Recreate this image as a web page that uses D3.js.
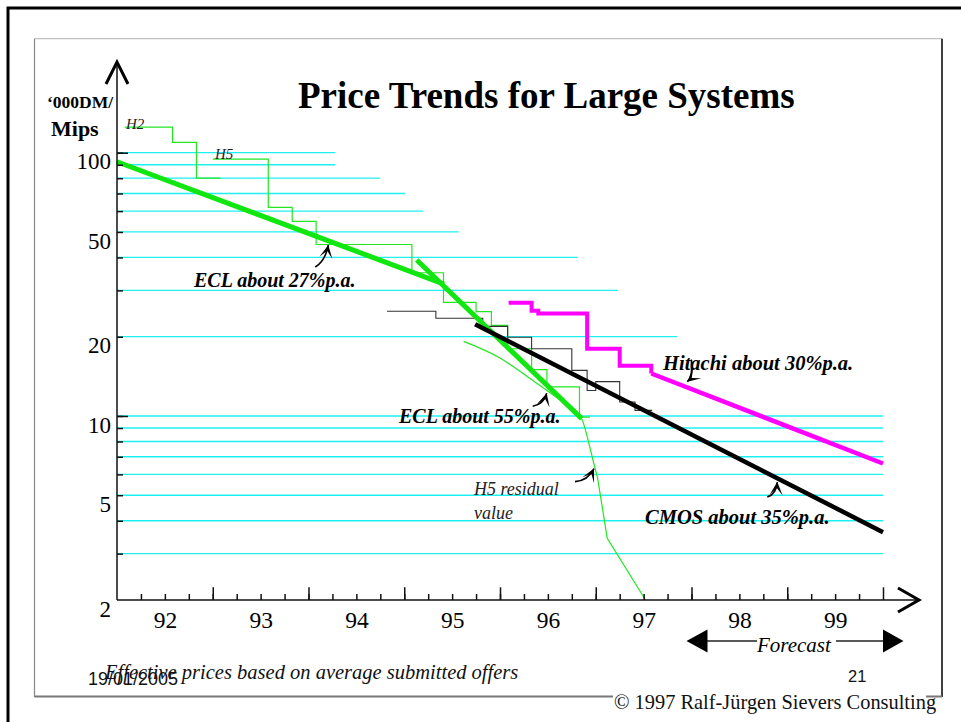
<!DOCTYPE html>
<html>
<head>
<meta charset="utf-8">
<script src="https://cdn.jsdelivr.net/npm/d3@7"></script>
<style>
body { margin: 0; background: #fff; }
svg { display: block; }
</style>
</head>
<body>
<div id="svg-container"></div>
<script>
const Width = 961;
const Height = 722;

// axis labels
const yearLabels = ["92", "93", "94", "95", "96", "97", "98", "99"];
const yearMids = [1992.5, 1993.5, 1994.5, 1995.5, 1996.5, 1997.5, 1998.5, 1999.5];
const yearBounds = [1993, 1994, 1995, 1996, 1997, 1998, 1999, 2000];
const yTickLabels = [100, 50, 20, 10, 5, 2];
const yMajorTicks = [100, 10];

// cyan helper lines (value, right end year)
const gridValues = [100, 90, 80, 70, 60, 50, 40, 30, 20, 10, 9, 8, 7, 6, 5, 4, 3];
const gridEnds = [1994.28, 1994.28, 1994.75, 1995.01, 1995.2, 1995.57, 1996.81, 1997.23, 1997.85,
                  2000, 2000, 2000, 2000, 2000, 2000, 2000, 2000];

// actual prices (steps)
const h2Years = [1992.08, 1992.58, 1992.83, 1993.08];
const h2Values = [125, 109.5, 80, 80];

const h5Years = [1993.0, 1993.58, 1993.83, 1994.08, 1995.08, 1995.41, 1995.75, 1995.91, 1996.08, 1996.33, 1996.49, 1996.83, 1996.94];
const h5Values = [94.6, 62, 54.8, 44.8, 35, 27, 24.9, 22.1, 18.0, 15.0, 12.9, 9.9, 9.9];

const cmosYears = [1994.82, 1995.33, 1995.82, 1996.08, 1996.33, 1996.75, 1996.91, 1997.0, 1997.25, 1997.41, 1997.59];
const cmosValues = [25.0, 23.5, 21.9, 19.9, 18.0, 14.9, 12.5, 13.5, 11.3, 10.5, 10.5];

const hitachiYears = [1996.09, 1996.33, 1996.40, 1996.91, 1997.25, 1997.58];
const hitachiValues = [26.9, 25.1, 24.5, 18.0, 15.5, 14.5];

// trends
const ecl27Years = [1992.0, 1995.415];
const ecl27Values = [92.4, 31.7];
const ecl55Years = [1995.13, 1996.853];
const ecl55Values = [39.1, 9.77];
const cmosTrendYears = [1995.74, 2000.0];
const cmosTrendValues = [22.3, 3.62];
const hitachiTrendYears = [1997.58, 2000.0];
const hitachiTrendValues = [14.5, 6.6];

// H5 residual value
const residualYears = [1995.62, 1996.0, 1996.31, 1996.57, 1996.85, 1996.92, 1996.98, 1997.02, 1997.12, 1997.52];
const residualValues = [19.2, 16.6, 13.9, 11.9, 9.8, 8.1, 6.6, 5.8, 3.43, 2.0];

const serif = "'Liberation Serif', 'Times New Roman', serif";
const sans = "'Liberation Sans', Arial, sans-serif";

const svg = d3.select("#svg-container").append("svg").attr("width", Width).attr("height", Height);

const x = d3.scaleLinear().domain([1992, 2000]).range([117, 883]);
const y = d3.scaleLog().domain([2, 100]).range([600, 152.7]);

const zip = (xs, vs) => xs.map((d, i) => [d, vs[i]]);

const line = d3.line().x(d => x(d[0])).y(d => y(d[1]));
const smooth = d3.line().x(d => x(d[0])).y(d => y(d[1])).curve(d3.curveMonotoneX);
const stepLine = d3.line().x(d => x(d[0])).y(d => y(d[1])).curve(d3.curveStepAfter);

// frames
svg.append("path")
    .attr("d", `M 8 ${Height} V 8 H ${Width}`)
    .attr("fill", "none").attr("stroke", "black").attr("stroke-width", 3);
svg.append("line").attr("x1", 34.5).attr("y1", 38.7).attr("x2", 942).attr("y2", 38.7)
    .attr("stroke", "#c0c0c0").attr("stroke-width", 1.2);
svg.append("line").attr("x1", 34.5).attr("y1", 38.7).attr("x2", 34.5).attr("y2", 697)
    .attr("stroke", "#888").attr("stroke-width", 1.2);
svg.append("line").attr("x1", 942).attr("y1", 38.7).attr("x2", 942).attr("y2", 697)
    .attr("stroke", "black").attr("stroke-width", 1.5);
svg.append("line").attr("x1", 34.5).attr("y1", 696.5).attr("x2", 942).attr("y2", 696.5)
    .attr("stroke", "#777").attr("stroke-width", 2);

// cyan lines
svg.append("g").selectAll("line")
    .data(gridValues)
    .join("line")
    .attr("x1", x(1992)).attr("x2", (d, i) => x(gridEnds[i]))
    .attr("y1", d => y(d)).attr("y2", d => y(d))
    .attr("stroke", "#1ef0f0").attr("stroke-width", 1.3);

// thin step lines
svg.append("path").attr("d", stepLine(zip(h2Years, h2Values)))
    .attr("fill", "none").attr("stroke", "#22e622").attr("stroke-width", 1.2);
svg.append("path").attr("d", stepLine(zip(h5Years, h5Values)))
    .attr("fill", "none").attr("stroke", "#22e622").attr("stroke-width", 1.2);
svg.append("path").attr("d", stepLine(zip(cmosYears, cmosValues)))
    .attr("fill", "none").attr("stroke", "#333").attr("stroke-width", 1.1);
// residual: smooth arc, then straight drop
svg.append("path").attr("d", smooth(zip(residualYears.slice(0, 6), residualValues.slice(0, 6))))
    .attr("fill", "none").attr("stroke", "#22e622").attr("stroke-width", 1.2);
svg.append("path").attr("d", line(zip(residualYears.slice(5), residualValues.slice(5))))
    .attr("fill", "none").attr("stroke", "#22e622").attr("stroke-width", 1.2);

// thick lines
svg.append("path").attr("d", stepLine(zip(hitachiYears, hitachiValues)))
    .attr("fill", "none").attr("stroke", "#ff00ff").attr("stroke-width", 4);
svg.append("path").attr("d", line(zip(hitachiTrendYears, hitachiTrendValues)))
    .attr("fill", "none").attr("stroke", "#ff00ff").attr("stroke-width", 4.5);
svg.append("path").attr("d", line(zip(ecl27Years, ecl27Values)))
    .attr("fill", "none").attr("stroke", "#11e611").attr("stroke-width", 5);
svg.append("path").attr("d", line(zip(ecl55Years, ecl55Values)))
    .attr("fill", "none").attr("stroke", "#11e611").attr("stroke-width", 5);
svg.append("path").attr("d", line(zip(cmosTrendYears, cmosTrendValues)))
    .attr("fill", "none").attr("stroke", "black").attr("stroke-width", 4.5);

// x axis ticks
const xMinor = svg.append("g").attr("transform", `translate(0, ${y(2)})`)
    .call(d3.axisTop(x).tickValues(d3.range(1992.25, 2000, 0.25)).tickSize(6).tickFormat(""));
const xMajor = svg.append("g").attr("transform", `translate(0, ${y(2)})`)
    .call(d3.axisTop(x).tickValues(yearBounds).tickSize(12.7).tickFormat(""));
const xLabels = svg.append("g").attr("transform", `translate(0, ${y(2)})`)
    .call(d3.axisBottom(x).tickValues(yearMids).tickSize(0).tickPadding(11).tickFormat((d, i) => yearLabels[i]));
[xMinor, xMajor, xLabels].forEach(g => {
    g.select(".domain").remove();
    g.selectAll("line").attr("stroke", "#111").attr("stroke-width", 1.5);
    g.attr("font-family", serif);
});
xLabels.selectAll("text").attr("font-family", serif).attr("font-size", 23.5).attr("fill", "black");

// y axis ticks
const yMinor = svg.append("g").attr("transform", `translate(${x(1992)}, 0)`)
    .call(d3.axisRight(y).tickValues(gridValues).tickSize(6).tickFormat(""));
const yMajor = svg.append("g").attr("transform", `translate(${x(1992)}, 0)`)
    .call(d3.axisRight(y).tickValues(yMajorTicks).tickSize(11).tickFormat(""));
const yLabels = svg.append("g").attr("transform", `translate(${x(1992)}, 0)`)
    .call(d3.axisLeft(y).tickValues(yTickLabels).tickSize(0).tickPadding(6).tickFormat(d3.format("d")));
[yMinor, yMajor, yLabels].forEach(g => {
    g.select(".domain").remove();
    g.selectAll("line").attr("stroke", "#111").attr("stroke-width", 1.5);
    g.attr("font-family", serif);
});
yLabels.selectAll("text").attr("font-family", serif).attr("font-size", 23).attr("fill", "black").attr("dy", "0.7em");

// axis lines with arrows
svg.append("line").attr("x1", x(1992)).attr("y1", y(2)).attr("x2", 918).attr("y2", y(2))
    .attr("stroke", "#111").attr("stroke-width", 1.5);
svg.append("line").attr("x1", x(1992)).attr("y1", y(2)).attr("x2", x(1992)).attr("y2", 63)
    .attr("stroke", "#111").attr("stroke-width", 1.5);
svg.append("path").attr("d", "M 898 588 L 919 600 L 898 612")
    .attr("fill", "none").attr("stroke", "black").attr("stroke-width", 3);
svg.append("path").attr("d", `M 106 84 L ${x(1992)} 62 L 128 84`)
    .attr("fill", "none").attr("stroke", "black").attr("stroke-width", 3);

// annotation arrows
const curvedArrow = (tipYear, tipValue, tail, ctrl) => {
    const tx = x(tipYear), ty = y(tipValue);
    const sx = tx + tail[0], sy = ty + tail[1];
    const cx = tx + ctrl[0], cy = ty + ctrl[1];
    svg.append("path")
        .attr("d", `M ${sx} ${sy} Q ${cx} ${cy} ${tx} ${ty}`)
        .attr("fill", "none").attr("stroke", "black").attr("stroke-width", 1.6);
    const a = Math.atan2(ty - cy, tx - cx);
    const L = 13, W = 6.5;
    const ux = Math.cos(a), uy = Math.sin(a);
    const px = -uy, py = ux;
    const pts = [
        [tx, ty],
        [tx - L * ux + W * px, ty - L * uy + W * py],
        [tx - 0.45 * L * ux, ty - 0.45 * L * uy],
        [tx - L * ux - W * px, ty - L * uy - W * py]
    ];
    svg.append("path").attr("d", "M" + pts.map(p => p.join(" ")).join(" L") + " Z").attr("fill", "black");
};
curvedArrow(1994.207, 44.6, [-13, 22], [-3, 16]);
curvedArrow(1996.488, 12.2, [-14, 13], [-3, 11]);
curvedArrow(1996.982, 6.31, [-19, 13], [-6, 12]);
curvedArrow(1998.896, 5.61, [-10, 15], [-1, 12]);
curvedArrow(1997.956, 13.5, [4, -22], [6, -5]);

// texts
const addText = (txt, px, py, size, opts = {}) => svg.append("text")
    .attr("x", px).attr("y", py)
    .attr("font-family", opts.family || serif)
    .attr("font-size", size)
    .attr("font-weight", opts.bold ? "bold" : "normal")
    .attr("font-style", opts.italic ? "italic" : "normal")
    .attr("fill", opts.fill || "black")
    .text(txt);

addText("Price Trends for Large Systems", 298, 108, 37, {bold: true});
addText("\u2018000DM/", 47, 108, 17.5, {bold: true});
addText("Mips", 51, 136, 22, {bold: true});
addText("H2", 126, 129, 15, {italic: true, fill: "#222"});
addText("H5", 215, 159, 15, {italic: true, fill: "#222"});
addText("ECL about 27%p.a.", 194, 287, 20, {bold: true, italic: true});
addText("ECL about 55%p.a.", 399, 423, 20, {bold: true, italic: true});
addText("Hitachi about 30%p.a.", 663, 370, 20.5, {bold: true, italic: true});
addText("CMOS about 35%p.a.", 645, 524, 20.5, {bold: true, italic: true});
addText("H5 residual", 474, 495, 18, {italic: true, fill: "#222"});
addText("value", 474, 519, 18, {italic: true, fill: "#222"});

// forecast arrow
svg.append("line").attr("x1", 705).attr("y1", 641).attr("x2", 757).attr("y2", 641)
    .attr("stroke", "#222").attr("stroke-width", 1.5);
svg.append("line").attr("x1", 836).attr("y1", 641).attr("x2", 885).attr("y2", 641)
    .attr("stroke", "#222").attr("stroke-width", 1.5);
svg.append("path").attr("d", "M 686.5 641 L 707.5 629.5 L 707.5 652.5 Z").attr("fill", "black");
svg.append("path").attr("d", "M 903.5 641 L 883 629.5 L 883 652.5 Z").attr("fill", "black");
addText("Forecast", 757, 652, 21, {italic: true});

// footer
addText("19/01/2005", 88, 685, 18, {family: sans, fill: "#111"});
addText("Effective prices based on average submitted offers", 105, 679, 20.5, {italic: true, fill: "#111"});
addText("21", 848, 682, 16.5, {family: sans, fill: "#111"});
svg.append("rect").attr("x", 613).attr("y", 690).attr("width", 313).attr("height", 26).attr("fill", "white");
addText("\u00a9 1997 Ralf-J\u00fcrgen Sievers Consulting", 614, 709, 20.4, {fill: "#111"});
</script>
</body>
</html>
